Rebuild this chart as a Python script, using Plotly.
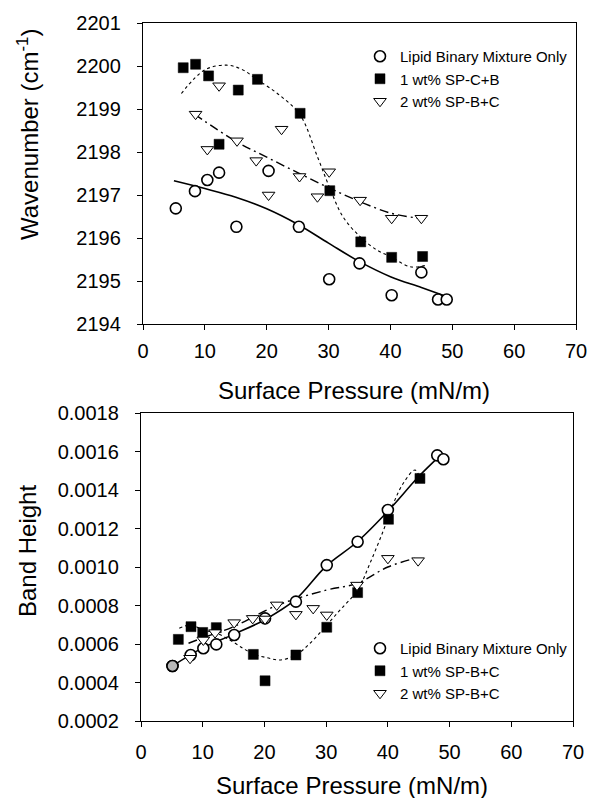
import plotly.graph_objects as go

# ---------------- Top panel data (Wavenumber) ----------------
top_lipid_x = [5.3, 8.4, 10.4, 12.3, 15.1, 20.3, 25.2, 30.1, 35.0, 40.2, 45.0, 47.7, 49.1]
top_lipid_y = [2196.69, 2197.09, 2197.35, 2197.52, 2196.26, 2197.56, 2196.26, 2195.04, 2195.41, 2194.67, 2195.2, 2194.57, 2194.57]

top_sq_x = [6.5, 8.5, 10.6, 12.3, 15.4, 18.5, 25.4, 30.2, 35.2, 40.2, 45.2]
top_sq_y = [2199.96, 2200.04, 2199.77, 2198.18, 2199.44, 2199.69, 2198.9, 2197.1, 2195.91, 2195.55, 2195.57]

top_tri_x = [8.5, 10.4, 12.3, 15.2, 18.3, 20.3, 22.4, 25.3, 28.2, 30.1, 35.1, 40.2, 45.0]
top_tri_y = [2198.88, 2198.06, 2199.54, 2198.26, 2197.8, 2197.0, 2198.53, 2197.43, 2196.96, 2197.54, 2196.88, 2196.46, 2196.46]

# trend curves
top_lipid_fit_x = [5, 10, 15, 20, 25, 30, 35, 40, 45, 48.5]
top_lipid_fit_y = [2197.33, 2197.15, 2196.95, 2196.68, 2196.32, 2195.88, 2195.45, 2195.1, 2194.85, 2194.67]

top_sq_fit_x = [6.2, 10, 13.5, 16, 18.5, 22, 25.4, 28.2, 30.2, 32.3, 35.1, 37.8, 40, 43.2, 45.9]
top_sq_fit_y = [2199.36, 2199.91, 2200.02, 2199.92, 2199.68, 2199.33, 2198.86, 2197.89, 2197.16, 2196.5, 2196.03, 2195.72, 2195.57, 2195.33, 2195.37]

top_tri_fit_x = [8.3, 15, 20, 25, 30, 35, 40, 45]
top_tri_fit_y = [2198.88, 2198.25, 2197.88, 2197.52, 2197.17, 2196.85, 2196.58, 2196.45]

# ---------------- Bottom panel data (Band Height) ----------------
bot_lipid_x = [5.1, 8.05, 10.1, 12.2, 15.1, 20.1, 25.1, 30.1, 35.1, 40.0, 48.0, 49.0]
bot_lipid_y = [0.000486, 0.000543, 0.000578, 0.000598, 0.000647, 0.000733, 0.00082, 0.00101, 0.001131, 0.001296, 0.00158, 0.00156]

bot_sq_x = [6.05, 8.1, 10.0, 12.2, 18.2, 20.1, 25.1, 30.1, 35.1, 40.1, 45.2]
bot_sq_y = [0.000624, 0.00069, 0.00066, 0.000685, 0.000546, 0.000409, 0.000543, 0.000687, 0.000867, 0.001248, 0.00146]

bot_tri_x = [7.95, 10.1, 12.0, 15.1, 18.1, 20.1, 22.0, 25.1, 27.9, 30.1, 35.0, 40.0, 44.9]
bot_tri_y = [0.000526, 0.000621, 0.000659, 0.000711, 0.000733, 0.00073, 0.000803, 0.000754, 0.000785, 0.000751, 0.000906, 0.001045, 0.001033]

bot_lipid_fit_x = [5.1, 10, 15, 20, 25, 30, 35, 40, 45, 48.5]
bot_lipid_fit_y = [0.000486, 0.00058, 0.00065, 0.000725, 0.00083, 0.001005, 0.00113, 0.00129, 0.00147, 0.00158]

bot_sq_fit_x = [6.2, 8.1, 10.1, 12.2, 14.4, 16.5, 18.2, 20.4, 22.5, 25.1, 27.4, 30.1, 32.5, 35.1, 37.1, 39.3, 40.9, 42.5, 44.4, 45.2]
bot_sq_fit_y = [0.000682, 0.000699, 0.000673, 0.000656, 0.000621, 0.000578, 0.000548, 0.000529, 0.000517, 0.000543, 0.000604, 0.000699, 0.000785, 0.00088, 0.001019, 0.001192, 0.00133, 0.001435, 0.001504, 0.00146]

bot_tri_fit_x = [7.7, 10, 15, 22, 30, 35, 40, 45]
bot_tri_fit_y = [0.000604, 0.000632, 0.00069, 0.0008, 0.00088, 0.000915, 0.001, 0.00105]

top_names = ["Lipid Binary Mixture Only", "1 wt% SP-C+B", "2 wt% SP-B+C"]
bot_names = ["Lipid Binary Mixture Only", "1 wt% SP-B+C", "2 wt% SP-B+C"]

FONT = "Liberation Sans, Arial, Helvetica, sans-serif"
W, H = 595, 798

fig = go.Figure()

def add_lines(xa, ya, xs, ys, dash, width):
    fig.add_trace(go.Scatter(x=xs, y=ys, mode="lines", xaxis=xa, yaxis=ya,
                             line=dict(color="black", width=width, dash=dash, shape="spline", smoothing=1.0),
                             showlegend=False, hoverinfo="skip"))

# top lines
add_lines("x", "y", top_lipid_fit_x, top_lipid_fit_y, "solid", 1.6)
add_lines("x", "y", top_sq_fit_x, top_sq_fit_y, "dot", 1.1)
add_lines("x", "y", top_tri_fit_x, top_tri_fit_y, "9px,4px,2px,4px", 1.4)
# bottom lines
add_lines("x2", "y2", bot_lipid_fit_x, bot_lipid_fit_y, "solid", 1.6)
add_lines("x2", "y2", bot_sq_fit_x, bot_sq_fit_y, "dot", 1.1)
add_lines("x2", "y2", bot_tri_fit_x, bot_tri_fit_y, "9px,4px,2px,4px", 1.4)

circ = dict(symbol="circle", size=11, color="white", line=dict(color="black", width=1.6))
sq = dict(symbol="square", size=10, color="black", line=dict(color="black", width=0.5))
tri = dict(symbol="triangle-down", size=11, color="white", line=dict(color="black", width=1.0))

# top markers
fig.add_trace(go.Scatter(x=top_lipid_x, y=top_lipid_y, mode="markers", name=top_names[0], marker=circ,
                         xaxis="x", yaxis="y", legend="legend"))
fig.add_trace(go.Scatter(x=top_sq_x, y=top_sq_y, mode="markers", name=top_names[1], marker=sq,
                         xaxis="x", yaxis="y", legend="legend"))
fig.add_trace(go.Scatter(x=top_tri_x, y=top_tri_y, mode="markers", name=top_names[2], marker=tri,
                         xaxis="x", yaxis="y", legend="legend"))
# bottom markers
fig.add_trace(go.Scatter(x=bot_lipid_x, y=bot_lipid_y, mode="markers", name=bot_names[0], marker=circ,
                         xaxis="x2", yaxis="y2", legend="legend2"))
# the first lipid point is drawn shaded grey in the original
shaded = dict(circ)
shaded["color"] = "#b8b8b8"
fig.add_trace(go.Scatter(x=bot_lipid_x[:1], y=bot_lipid_y[:1], mode="markers", marker=shaded,
                         xaxis="x2", yaxis="y2", showlegend=False, hoverinfo="skip"))
fig.add_trace(go.Scatter(x=bot_sq_x, y=bot_sq_y, mode="markers", name=bot_names[1], marker=sq,
                         xaxis="x2", yaxis="y2", legend="legend2"))
fig.add_trace(go.Scatter(x=bot_tri_x, y=bot_tri_y, mode="markers", name=bot_names[2], marker=tri,
                         xaxis="x2", yaxis="y2", legend="legend2"))

def px_x(p):
    return p / W

def px_y(p):
    return 1 - p / H

axis_common = dict(showgrid=False, zeroline=False, showline=True, linecolor="black", linewidth=1.4,
                   mirror=True, ticks="outside", ticklen=5, tickwidth=1, tickcolor="black",
                   automargin=False,
                   tickfont=dict(family=FONT, size=20, color="black"))

fig.update_layout(
    width=W, height=H, margin=dict(l=0, r=0, t=0, b=0, autoexpand=False),
    paper_bgcolor="white", plot_bgcolor="white",
    font=dict(family=FONT, color="black"),
    xaxis=dict(domain=[px_x(143), px_x(576)], range=[0, 70], dtick=10, anchor="y",
               ticklabelstandoff=4, **axis_common),
    yaxis=dict(domain=[px_y(324), px_y(23)], range=[2194, 2201], dtick=1, anchor="x",
               ticklabelstandoff=12, **axis_common),
    xaxis2=dict(domain=[px_x(141), px_x(573)], range=[0, 70], dtick=10, anchor="y2",
                ticklabelstandoff=8, **axis_common),
    yaxis2=dict(domain=[px_y(721), px_y(413)], range=[0.0002, 0.0018], dtick=0.0002, anchor="x2",
                tickformat=".4f", ticklabelstandoff=12, **axis_common),
    legend=dict(x=px_x(360), y=px_y(40), xanchor="left", yanchor="top", bgcolor="rgba(0,0,0,0)",
                font=dict(family=FONT, size=15, color="black"), itemwidth=30, tracegroupgap=0),
    legend2=dict(x=px_x(360), y=px_y(632), xanchor="left", yanchor="top", bgcolor="rgba(0,0,0,0)",
                 font=dict(family=FONT, size=15, color="black"), itemwidth=30, tracegroupgap=0),
    showlegend=True,
)

title_font = dict(family=FONT, size=24, color="black")
fig.add_annotation(text="Surface Pressure (mN/m)", xref="paper", yref="paper",
                   x=px_x(354), y=px_y(390), xanchor="center", yanchor="middle",
                   showarrow=False, font=title_font)
fig.add_annotation(text="Surface Pressure (mN/m)", xref="paper", yref="paper",
                   x=px_x(352), y=px_y(785), xanchor="center", yanchor="middle",
                   showarrow=False, font=title_font)
fig.add_annotation(text="Wavenumber (cm<sup>-1</sup>)", xref="paper", yref="paper",
                   x=px_x(28), y=px_y(135), xanchor="center", yanchor="middle", textangle=-90,
                   showarrow=False, font=title_font)
fig.add_annotation(text="Band Height", xref="paper", yref="paper",
                   x=px_x(27), y=px_y(551), xanchor="center", yanchor="middle", textangle=-90,
                   showarrow=False, font=title_font)

fig.write_html("out.html", config={"displayModeBar": False},
               post_script="document.body.style.margin='0px';")
